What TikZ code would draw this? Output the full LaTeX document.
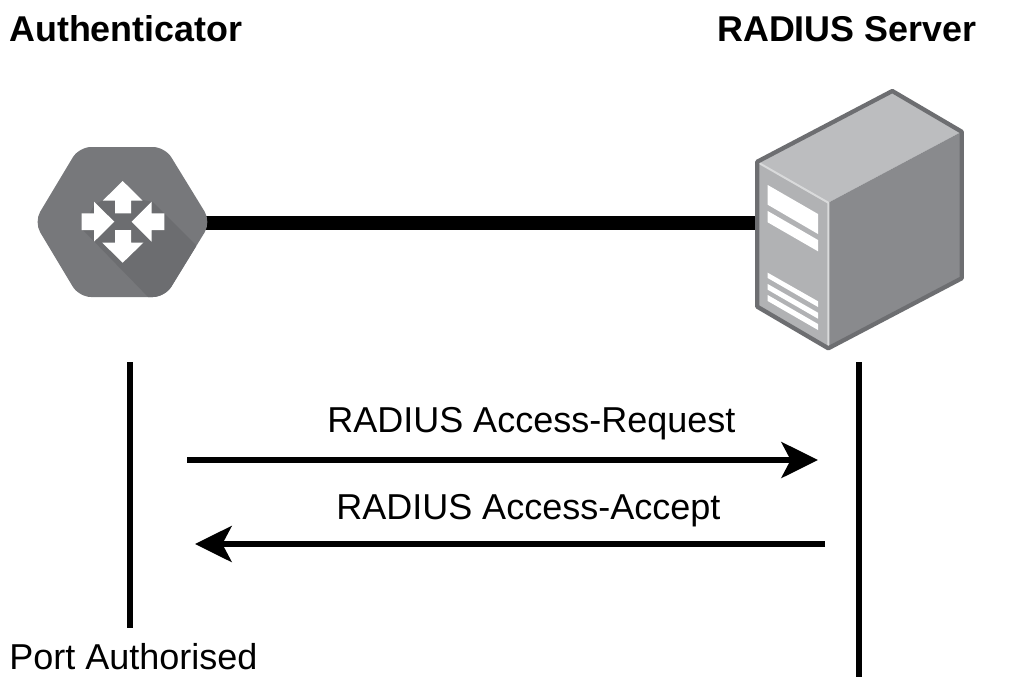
\documentclass[tikz,border=0pt]{standalone}
\usepackage{fontspec}
\setmainfont{Liberation Sans}
\usetikzlibrary{arrows.meta}
\definecolor{hexgrey}{HTML}{77787B}
\definecolor{hexshadow}{HTML}{6C6D70}
\definecolor{srvedge}{HTML}{6D6E71}
\definecolor{srvtop}{HTML}{BCBDBF}
\definecolor{srvfront}{HTML}{B1B2B4}
\definecolor{srvside}{HTML}{898A8D}
\definecolor{srvlight}{HTML}{D9DADB}
\tikzset{
  px/.style={x=0.75pt,y=-0.75pt},
  title/.style={font=\fontsize{26.9pt}{30pt}\selectfont\bfseries,inner sep=0pt},
  label/.style={font=\fontsize{27pt}{32pt}\selectfont,inner sep=0pt},
  link/.style={line width=9.8pt,black},
  life/.style={line width=3.9pt,black},
  msg/.style={line width=3.9pt,black,-{Stealth[length=27.5pt,width=27pt,inset=7pt]}},
  whitepart/.style={fill=white,draw=none}
}
\begin{document}
\begin{tikzpicture}[px]
\useasboundingbox (0,0) rectangle (1011,690);
\fill[white] (0,0) rectangle (1011,690);
% named anchors
\coordinate (hexR) at (200,223);
\coordinate (srvL) at (758,223);
\coordinate (authTop) at (130,362);
\coordinate (authBot) at (130,628);
\coordinate (radTop) at (859,362);
\coordinate (radBot) at (859,677);
\coordinate (reqS) at (187,460);
\coordinate (reqE) at (818,460);
\coordinate (accS) at (825,544);
\coordinate (accE) at (195,544);
% link
\draw[link] (hexR) -- (srvL);
% hexagon
\begin{scope}
\clip[rounded corners=9pt] (34,222) -- (79,147) -- (165,147) -- (211,222) -- (165,297) -- (79,297) -- cycle;
\fill[hexgrey] (30,140) rectangle (215,305);
\fill[hexshadow] (103,200) -- (143,200) -- (153,202) -- (215,264) -- (215,300) -- (151,300) -- (82,229) -- (94,205) -- cycle;
\end{scope}
\fill[whitepart] (122.7,181) -- (142.7,200.7) -- (131,200.7) -- (131,213.3) -- (115,213.3) -- (115,200.7) -- (102.7,200.7) -- cycle;
\fill[whitepart] (122.7,262.7) -- (143.3,242.7) -- (131,242.7) -- (131,230) -- (115,230) -- (115,242.7) -- (102.3,242.7) -- cycle;
\fill[whitepart] (114.3,221.7) -- (94,201.7) -- (94,213.3) -- (81.7,213.3) -- (81.7,230) -- (94,230) -- (94,241.7) -- cycle;
\fill[whitepart] (131.7,221.7) -- (151.7,201.7) -- (151.7,213.3) -- (164.3,213.3) -- (164.3,230) -- (151.7,230) -- (151.7,241.7) -- cycle;
% server
\fill[srvtop] (757.3,161.7) -- (892.3,91) -- (961.7,131.7) -- (828.3,202.7) -- cycle;
\fill[srvfront] (757.3,161.7) -- (828.3,202.7) -- (828.3,348.3) -- (757.3,306.7) -- cycle;
\fill[srvside] (828.3,202.7) -- (961.7,131.7) -- (961.7,278.3) -- (828.3,348.3) -- cycle;
\draw[srvlight,line width=1.5pt] (759,163) -- (828.3,202.7) -- (828.3,346);
\fill[whitepart] (767.7,185) -- (818,214) -- (818,234) -- (767.7,204.7) -- cycle;
\fill[whitepart] (767.7,211) -- (818,240) -- (818,251.3) -- (767.7,222.3) -- cycle;
\fill[whitepart] (767.7,272.7) -- (818,301.3) -- (818,307) -- (767.7,278) -- cycle;
\fill[whitepart] (767.7,284) -- (818,312.7) -- (818,318.7) -- (767.7,289.7) -- cycle;
\fill[whitepart] (767.7,295) -- (818,324) -- (818,330) -- (767.7,301) -- cycle;
\draw[srvedge,line width=3.2pt,line join=round] (757.3,161.7) -- (892.3,91) -- (961.7,131.7) -- (961.7,278.3) -- (828.3,348.3) -- (757.3,306.7) -- cycle;
% lifelines
\draw[life] (authTop) -- (authBot);
\draw[life] (radTop) -- (radBot);
\draw[msg] (reqS) -- (reqE);
\draw[msg] (accS) -- (accE);
% text
\node[title,anchor=base west] (tAuth) at (9,41) {Authenticator};
\node[title,anchor=base west] (tRad) at (717,41) {RADIUS Server};
\node[label,anchor=base west] (lReq) at (327,432) {RADIUS Access-Request};
\node[label,anchor=base west] (lAcc) at (336,519) {RADIUS Access-Accept};
\node[label,anchor=base west] (lPort) at (9,669) {Port Authorised};
\end{tikzpicture}
\end{document}
